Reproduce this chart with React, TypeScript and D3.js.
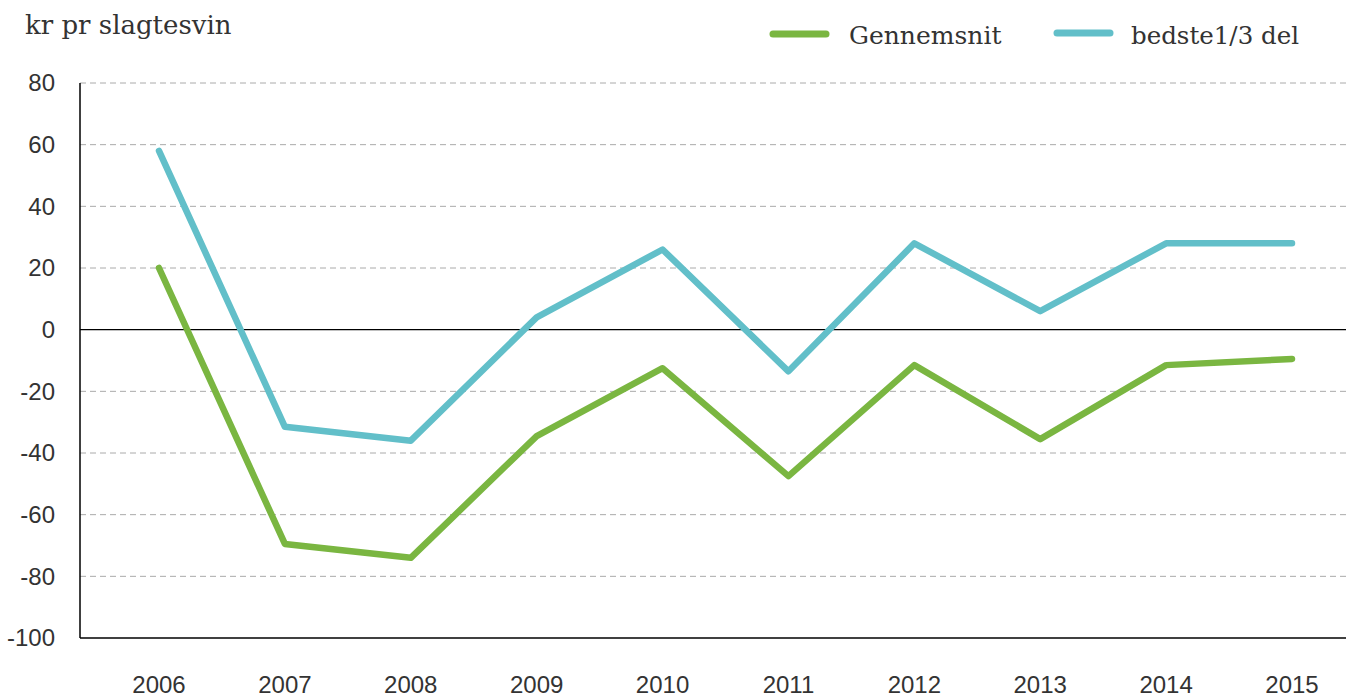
import React from 'react';
import * as d3 from 'd3';

const years = ['2006', '2007', '2008', '2009', '2010', '2011', '2012', '2013', '2014', '2015'];
const gennemsnit = [20, -69.5, -74, -34.5, -12.5, -47.5, -11.5, -35.5, -11.5, -9.5];
const bedste = [58, -31.5, -36, 4, 26, -13.5, 28, 6, 28, 28];
const yTicks = [80, 60, 40, 20, 0, -20, -40, -60, -80, -100];

const W = 1346;
const H = 697;
const margin = { top: 83, right: 0, bottom: 59, left: 80 };
const serif = '"DejaVu Serif", serif';
const sans = '"Liberation Sans", Arial, sans-serif';

const GREEN = '#7ab641';
const TEAL = '#62bfc9';

export default function App() {
  const x = d3.scalePoint<string>().domain(years).range([159, 1292]);
  const y = d3.scaleLinear().domain([-100, 80]).range([H - margin.bottom, margin.top]);

  const line = d3
    .line<number>()
    .x((_, i) => x(years[i]) as number)
    .y(d => y(d));

  return (
    <svg
      width={W}
      height={H}
      style={{ position: 'absolute', left: 0, top: 0, background: '#fff' }}
    >
      {/* gridlines */}
      {yTicks.filter(t => t !== 0 && t !== -100).map(t => (
        <line
          key={t}
          x1={margin.left}
          x2={W - margin.right}
          y1={y(t)}
          y2={y(t)}
          stroke="#aaa"
          strokeWidth={1}
          strokeDasharray="6,4"
        />
      ))}
      {/* zero line */}
      <line x1={margin.left} x2={W} y1={y(0)} y2={y(0)} stroke="#000" strokeWidth={1.3} />
      {/* axes */}
      <line x1={margin.left} x2={margin.left} y1={y(80)} y2={y(-100)} stroke="#000" strokeWidth={1.5} />
      <line x1={margin.left} x2={W} y1={y(-100)} y2={y(-100)} stroke="#000" strokeWidth={1.5} />

      {yTicks.map(t => (
        <text
          key={t}
          x={55}
          y={y(t)}
          dy="0.35em"
          textAnchor="end"
          fontFamily={sans}
          fontSize={24}
          fill="#333"
        >
          {t}
        </text>
      ))}
      {years.map(yr => (
        <text
          key={yr}
          x={x(yr)}
          y={693}
          textAnchor="middle"
          fontFamily={sans}
          fontSize={24}
          fill="#333"
        >
          {yr}
        </text>
      ))}

      <path d={line(gennemsnit) || ''} fill="none" stroke={GREEN} strokeWidth={6.5} strokeLinecap="round" strokeLinejoin="round" />
      <path d={line(bedste) || ''} fill="none" stroke={TEAL} strokeWidth={6.5} strokeLinecap="round" strokeLinejoin="round" />

      <text x={25} y={34} fontFamily={serif} fontSize={26} fill="#333">
        kr pr slagtesvin
      </text>

      {/* legend */}
      <line x1={773} x2={826} y1={34} y2={34} stroke={GREEN} strokeWidth={7} strokeLinecap="round" />
      <text x={849} y={44} fontFamily={serif} fontSize={25} fill="#333">
        Gennemsnit
      </text>
      <line x1={1057} x2={1110} y1={33} y2={33} stroke={TEAL} strokeWidth={7} strokeLinecap="round" />
      <text x={1131} y={44} fontFamily={serif} fontSize={24.5} fill="#333">
        bedste1/3 del
      </text>
    </svg>
  );
}
